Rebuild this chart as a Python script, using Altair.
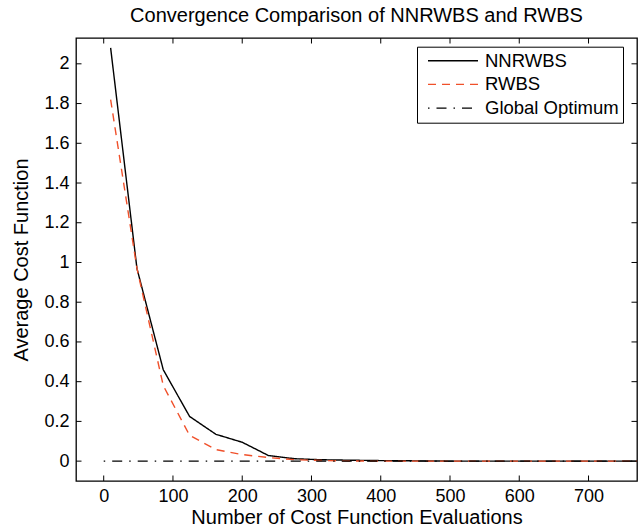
import altair as alt
import pandas as pd

# ---- data ----
evals = [10, 48, 86, 124, 162, 200, 238, 276, 314, 352, 390, 428, 466, 504,
         542, 580, 618, 656, 694, 732, 770]
nnrwbs = [2.08, 0.97, 0.46, 0.225, 0.135, 0.095, 0.028, 0.012, 0.007, 0.005,
          0.003, 0.002, 0.001, 0.0, 0.0, 0.0, 0.0, 0.0, 0.0, 0.0, 0.0]
rwbs = [1.82, 0.97, 0.38, 0.13, 0.058, 0.033, 0.018, 0.007, 0.003, 0.001,
        0.0, 0.0, 0.0, 0.0, 0.0, 0.0, 0.0, 0.0, 0.0, 0.0, 0.0]
optimum_x = [0, 770]
optimum_y = [0.0, 0.0]

series_names = ["NNRWBS", "RWBS", "Global Optimum"]
series_colors = ["#000000", "#f0502a", "#000000"]
series_dash = [[1, 0], [8, 6], [1.5, 7, 10, 7]]

xticks = [0, 100, 200, 300, 400, 500, 600, 700]
yticks = [0, 0.2, 0.4, 0.6, 0.8, 1, 1.2, 1.4, 1.6, 1.8, 2]

rows = []
for x, y in zip(evals, nnrwbs):
    rows.append({"evals": x, "cost": y, "series": "NNRWBS", "order": x})
for x, y in zip(evals, rwbs):
    rows.append({"evals": x, "cost": y, "series": "RWBS", "order": x})
for x, y in zip(optimum_x, optimum_y):
    rows.append({"evals": x, "cost": y, "series": "Global Optimum", "order": x})
df = pd.DataFrame(rows)

W, H = 561, 443
FONT = "Liberation Sans"
FS = 18        # tick labels / legend
FT = 20        # titles
TL = 5.5

xscale = alt.Scale(domain=[-40, 770], nice=False, zero=False)
yscale = alt.Scale(domain=[-0.1, 2.13], nice=False, zero=False)

lines = alt.Chart(df).mark_line(strokeWidth=1.4, clip=True).encode(
    x=alt.X("evals:Q", scale=xscale,
            axis=alt.Axis(values=xticks, title="Number of Cost Function Evaluations",
                          tickSize=0, domain=False, grid=False, labelPadding=6,
                          titlePadding=2, format="d")),
    y=alt.Y("cost:Q", scale=yscale,
            axis=alt.Axis(values=yticks, title="Average Cost Function",
                          tickSize=0, domain=False, grid=False, labelPadding=7,
                          titlePadding=12, format="~g")),
    color=alt.Color("series:N", sort=series_names,
                    scale=alt.Scale(domain=series_names, range=series_colors),
                    title=None),
    strokeDash=alt.StrokeDash("series:N", sort=series_names,
                              scale=alt.Scale(domain=series_names, range=series_dash),
                              title=None),
    order="order:Q",
)

xt = pd.DataFrame({"t": xticks})
yt = pd.DataFrame({"t": yticks})

tick_bottom = alt.Chart(xt).mark_rule(color="black", strokeWidth=1).encode(
    x=alt.X("t:Q", scale=xscale), y=alt.value(H), y2=alt.value(H - TL))
tick_top = alt.Chart(xt).mark_rule(color="black", strokeWidth=1).encode(
    x=alt.X("t:Q", scale=xscale), y=alt.value(0), y2=alt.value(TL))
tick_left = alt.Chart(yt).mark_rule(color="black", strokeWidth=1).encode(
    y=alt.Y("t:Q", scale=yscale), x=alt.value(0), x2=alt.value(TL))
tick_right = alt.Chart(yt).mark_rule(color="black", strokeWidth=1).encode(
    y=alt.Y("t:Q", scale=yscale), x=alt.value(W), x2=alt.value(W - TL))

chart = alt.layer(lines, tick_bottom, tick_top, tick_left, tick_right).properties(
    width=W, height=H,
    background="white",
    title=alt.TitleParams("Convergence Comparison of NNRWBS and RWBS",
                          font=FONT, fontSize=FT, fontWeight="normal",
                          color="black", anchor="middle", offset=12),
    autosize=alt.AutoSizeParams(type="none"),
    padding={"left": 76, "top": 38, "right": 4, "bottom": 50},
).configure_view(
    stroke="black", strokeWidth=1.3
).configure_axis(
    labelFont=FONT, labelFontSize=FS, labelColor="black",
    titleFont=FONT, titleFontSize=FT, titleColor="black", titleFontWeight="normal",
).configure_legend(
    orient="none", legendX=341, legendY=8.7, direction="vertical",
    strokeColor="black", fillColor="white", padding=4, cornerRadius=0,
    symbolType="stroke", symbolSize=2500, symbolStrokeWidth=1.4, symbolOffset=6,
    labelFont=FONT, labelFontSize=18.5, labelColor="black", labelOffset=6,
    clipHeight=20, rowPadding=3.7,
)

chart.save("out.html", embed_options={"renderer": "svg", "actions": False})
